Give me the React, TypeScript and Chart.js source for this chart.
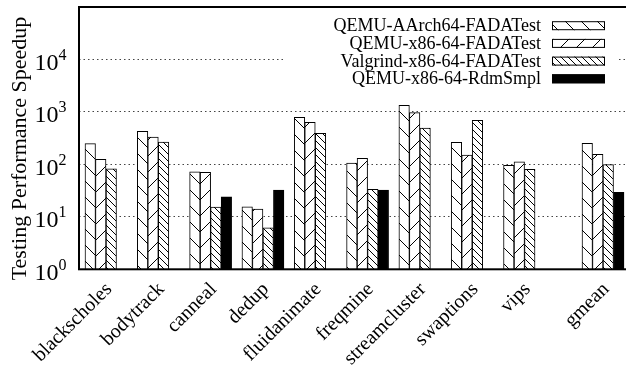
import React, { useEffect, useRef } from "react";
import { Chart, registerables } from "chart.js";

Chart.register(...registerables);

const categories = [
  "blackscholes",
  "bodytrack",
  "canneal",
  "dedup",
  "fluidanimate",
  "freqmine",
  "streamcluster",
  "swaptions",
  "vips",
  "gmean",
];
// gmean is set apart from the other benchmarks by a half-slot gap
const positions = [0, 1, 2, 3, 4, 5, 6, 7, 8, 9.5];

const seriesNames = [
  "QEMU-AArch64-FADATest",
  "QEMU-x86-64-FADATest",
  "Valgrind-x86-64-FADATest",
  "QEMU-x86-64-RdmSmpl",
];

const qemuAarch64 = [248, 427, 72.5, 15.6, 789, 106, 1337, 264, 96, 252];
const qemuX86 = [125, 333, 70.6, 14.1, 634, 131, 967, 151, 112, 156];
const valgrindX86 = [82.7, 267, 15.4, 6.2, 391, 33.5, 494, 692, 80.5, 98.6];
const qemuRdmSmpl = [null, null, 24.2, 32.5, null, 32.5, null, null, null, 29.4];

const yTickExponents = [0, 1, 2, 3, 4];

const FONT = "'Liberation Serif', 'DejaVu Serif', serif";

function makeHatch(kind: "back" | "fwd" | "backDense" | "solid"): CanvasPattern | string {
  if (kind === "solid") return "#000";
  const p = kind === "backDense" ? 7 : 16;
  const c = document.createElement("canvas");
  c.width = p;
  c.height = p;
  const g = c.getContext("2d")!;
  g.fillStyle = "#fff";
  g.fillRect(0, 0, p, p);
  g.strokeStyle = "#000";
  g.lineWidth = 1;
  g.beginPath();
  for (let k = -1; k <= 1; k++) {
    if (kind === "fwd") {
      g.moveTo(k * p, p);
      g.lineTo(k * p + p, 0);
    } else {
      g.moveTo(k * p, 0);
      g.lineTo(k * p + p, p);
    }
  }
  g.stroke();
  return g.createPattern(c, "repeat")!;
}

export default function App() {
  const ref = useRef<HTMLCanvasElement | null>(null);

  useEffect(() => {
    const canvas = ref.current!;
    const fills = [
      makeHatch("back"),
      makeHatch("fwd"),
      makeHatch("backDense"),
      makeHatch("solid"),
    ];
    const seriesValues = [qemuAarch64, qemuX86, valgrindX86, qemuRdmSmpl];

    const decor = {
      id: "decor",
      afterDraw(chart: any) {
        const { ctx, chartArea: a, scales } = chart;
        const ys = scales.y;
        const xs = scales.x;
        ctx.save();

        // legend (opaque box)
        const lgLeft = 283;
        const lgRight = 616;
        const lgTop = a.top + 4;
        const rowH = 17.7;
        const row0 = a.top + 18.7;
        ctx.fillStyle = "#fff";
        ctx.fillRect(lgLeft, lgTop, lgRight - lgLeft, row0 + rowH * 3 + 10 - lgTop);
        ctx.font = `18px ${FONT}`;
        ctx.textAlign = "right";
        ctx.textBaseline = "alphabetic";
        seriesNames.forEach((name, i) => {
          const cy = row0 + i * rowH;
          ctx.fillStyle = "#000";
          ctx.fillText(name, 541, cy + 5.5);
          ctx.fillStyle = fills[i];
          ctx.fillRect(552, cy - 4.5, 53, 9);
          ctx.strokeStyle = "#000";
          ctx.lineWidth = 1;
          ctx.strokeRect(552.5, cy - 4, 52, 8);
        });

        // y tick labels 10^k
        ctx.fillStyle = "#000";
        yTickExponents.forEach((k) => {
          const py = ys.getPixelForValue(Math.pow(10, k));
          ctx.font = `24px ${FONT}`;
          ctx.textAlign = "right";
          ctx.fillText("10", 58.5, py + 10.5);
          ctx.font = `16px ${FONT}`;
          ctx.textAlign = "left";
          ctx.fillText(String(k), 58.5, py + 0.5);
        });

        // x labels, rotated 45 degrees
        ctx.font = `20px ${FONT}`;
        ctx.textAlign = "right";
        ctx.textBaseline = "middle";
        categories.forEach((c, i) => {
          const px = xs.getPixelForValue(positions[i]);
          ctx.save();
          ctx.translate(px + 3, a.bottom + 17);
          ctx.rotate(-Math.PI / 4);
          ctx.fillText(c, 0, 0);
          ctx.restore();
        });

        // y axis title
        ctx.font = `22px ${FONT}`;
        ctx.textAlign = "center";
        ctx.textBaseline = "alphabetic";
        ctx.save();
        ctx.translate(25.5, 148.5);
        ctx.rotate(-Math.PI / 2);
        ctx.fillText("Testing Performance Speedup", 0, 0);
        ctx.restore();

        // frame
        ctx.strokeStyle = "#000";
        ctx.lineWidth = 2;
        ctx.strokeRect(a.left, a.top, a.right - a.left, a.bottom - a.top);
        ctx.restore();
      },
    };

    const chart = new Chart(canvas, {
      type: "bar",
      data: {
        datasets: seriesValues.map((vals, i) => ({
          label: seriesNames[i],
          data: vals.map((v, j) => ({ x: positions[j], y: v })),
          backgroundColor: fills[i] as any,
          borderColor: "#000",
          borderWidth: 1,
          borderSkipped: "start" as const,
          barThickness: 10.5,
        })),
      },
      options: {
        responsive: false,
        animation: false,
        devicePixelRatio: 1,
        layout: { padding: { left: 0, top: 7, right: 10, bottom: 0 } },
        plugins: {
          legend: { display: false },
          tooltip: { enabled: false },
        },
        scales: {
          x: {
            type: "linear",
            offset: false,
            min: -0.516,
            max: 10.016,
            ticks: { display: false },
            grid: { display: false, offset: false },
            border: { display: false },
            afterFit: (s: any) => {
              s.height = 375 - 269.3;
            },
          },
          y: {
            type: "logarithmic",
            min: 1,
            max: 100000,
            afterBuildTicks: (s: any) => {
              s.ticks = [0, 1, 2, 3, 4, 5].map((k) => ({ value: Math.pow(10, k), major: true }));
            },
            ticks: { display: false },
            grid: {
              drawTicks: false,
              lineWidth: 1,
              color: (ctx: any) => {
                const v = ctx.tick ? ctx.tick.value : 0;
                return v > 1 && v < 100000 ? "#444" : "rgba(0,0,0,0)";
              },
            },
            border: { display: false, dash: [1.5, 3] },
            afterFit: (s: any) => {
              s.width = 79;
            },
          },
        },
      },
      plugins: [decor],
    });

    return () => chart.destroy();
  }, []);

  return (
    <div
      style={{
        position: "fixed",
        left: 0,
        top: 0,
        width: 626,
        height: 375,
        overflow: "hidden",
        background: "#fff",
      }}
    >
      <canvas ref={ref} width={640} height={375} style={{ display: "block" }} />
    </div>
  );
}
